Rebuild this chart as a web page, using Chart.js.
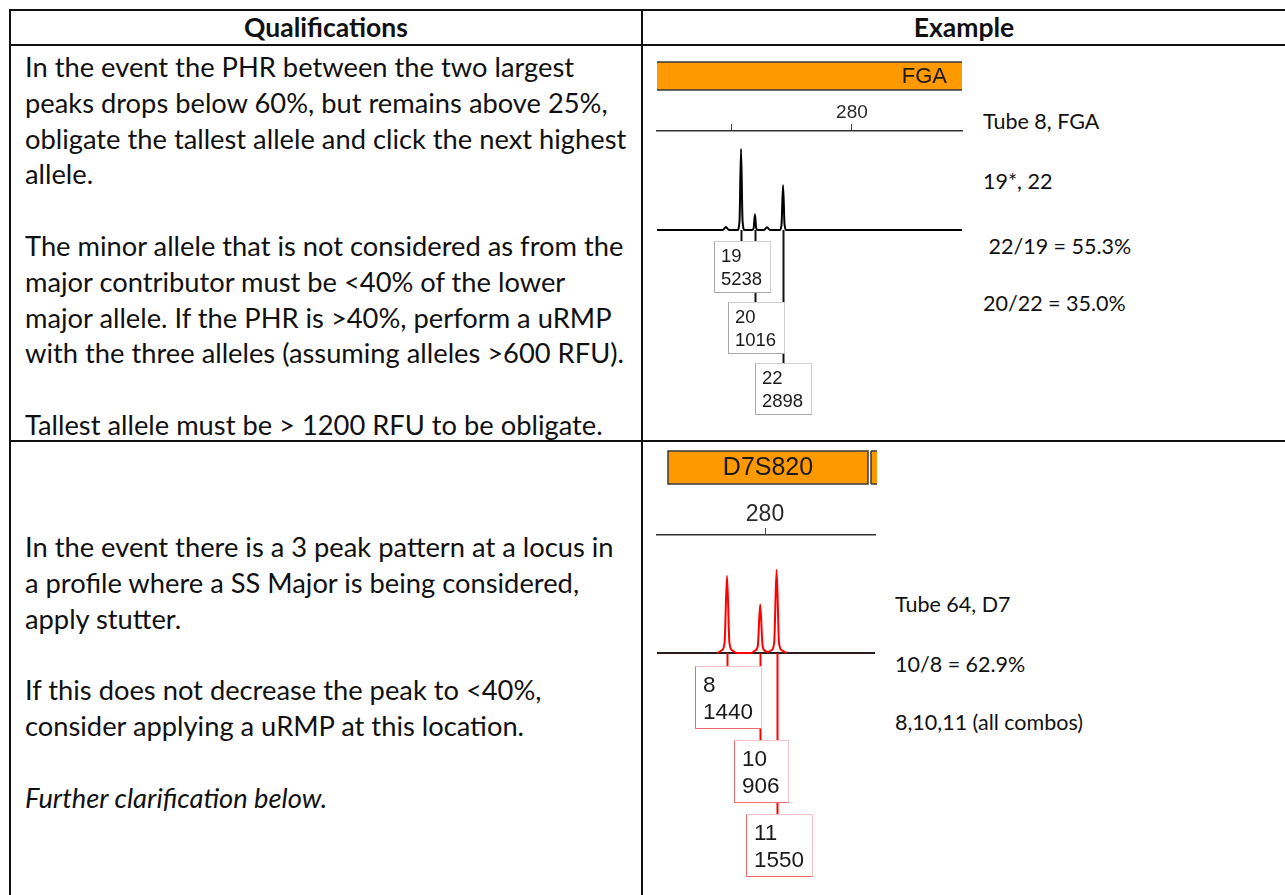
<!DOCTYPE html>
<html>
<head>
<meta charset="utf-8">
<script src="https://cdn.jsdelivr.net/npm/chart.js@4.4.1/dist/chart.umd.min.js"></script>
<style>
  body { margin: 0; background: #fff; }
  #page { position: relative; width: 1285px; height: 895px; overflow: hidden; font-family: Lato, sans-serif; color: #111; }
  .hl { position: absolute; background: #111; height: 2px; }
  .vl { position: absolute; background: #111; width: 2px; }
  .hdr { position: absolute; top: 11px; font-weight: bold; font-size: 26.5px; line-height: 33px; text-align: center; }
  .txt { position: absolute; left: 25px; font-size: 27.3px; line-height: 35.8px; white-space: pre; }
  .note { position: absolute; font-size: 21.5px; line-height: 24px; white-space: pre; }
  canvas { position: absolute; }
</style>
</head>
<body>
<div id="page">
  <div class="hl" style="left:9px;top:9px;width:1276px"></div>
  <div class="hl" style="left:9px;top:44px;width:1276px"></div>
  <div class="hl" style="left:9px;top:440px;width:1276px"></div>
  <div class="vl" style="left:9px;top:9px;height:886px"></div>
  <div class="vl" style="left:641px;top:9px;height:886px"></div>

  <div class="hdr" style="left:11px;width:630px">Qualifications</div>
  <div class="hdr" style="left:643px;width:642px">Example</div>

  <div class="txt" style="top:49px">In the event the PHR between the two largest
peaks drops below 60%, but remains above 25%,
obligate the tallest allele and click the next highest
allele.

The minor allele that is not considered as from the
major contributor must be &lt;40% of the lower
major allele. If the PHR is &gt;40%, perform a uRMP
with the three alleles (assuming alleles &gt;600 RFU).

Tallest allele must be &gt; 1200 RFU to be obligate.</div>

  <div class="txt" style="top:529px">In the event there is a 3 peak pattern at a locus in
a profile where a SS Major is being considered,
apply stutter.

If this does not decrease the peak to &lt;40%,
consider applying a uRMP at this location.

<i>Further clarification below.</i></div>

  <div class="note" style="left:983px;top:109px">Tube 8, FGA</div>
  <div class="note" style="left:983px;top:169px">19*, 22</div>
  <div class="note" style="left:983px;top:234px"> 22/19 = 55.3%</div>
  <div class="note" style="left:983px;top:291px">20/22 = 35.0%</div>

  <div class="note" style="left:895px;top:592px">Tube 64, D7</div>
  <div class="note" style="left:895px;top:652px">10/8 = 62.9%</div>
  <div class="note" style="left:895px;top:710px">8,10,11 (all combos)</div>

  <canvas id="fgaChart" width="330" height="392" style="left:645px;top:47px"></canvas>
  <canvas id="d7Chart" width="240" height="450" style="left:645px;top:443px"></canvas>
</div>

<script>
// FGA, tube 8
const fgaRange = [215.5, 316.4];
const fgaBin = [215.5, 316.4];
const fgaTicks = [240, 280];
const fgaTickText = ['', '280'];
const fgaAlleles = ['19', '20', '22'];
const fgaSizes = [243.3, 247.9, 257.2];
const fgaHeights = [5238, 1016, 2898];
const fgaTraceBp = [215.5, 237.3, 238.3, 239.3, 242.1, 242.8, 243.3, 243.8, 244.5, 247.0, 247.5, 247.9, 248.3, 248.8, 250.9, 251.9, 252.9, 256.1, 256.7, 257.2, 257.7, 258.3, 316.4];
const fgaTraceRfu = [0, 0, 190, 0, 0, 600, 5238, 600, 0, 0, 150, 1016, 150, 0, 0, 170, 0, 0, 350, 2898, 350, 0, 0];

// D7S820, tube 64
const d7Range = [253, 307.5];
const d7Bin = [255.75, 305.75];
const d7NextBin = [306.5, 308];
const d7Ticks = [280];
const d7TickText = ['280'];
const d7Alleles = ['8', '10', '11'];
const d7Sizes = [270.5, 278.8, 282.9];
const d7Heights = [1440, 906, 1550];
const d7TraceBp = [268.0, 269.2, 269.9, 270.5, 271.1, 271.8, 273.0, 276.4, 277.6, 278.2, 278.8, 279.4, 280.0, 280.8, 281.6, 282.3, 282.9, 283.5, 284.2, 285.4];
const d7TraceRfu = [0, 50, 200, 1440, 200, 50, 0, 0, 50, 130, 906, 130, 40, 20, 50, 200, 1550, 200, 50, 0];

function toPoints(xs, ys) {
    return xs.map((x, i) => ({x: x, y: ys[i]}));
}

const locusBar = {
    id: 'locusBar',
    beforeDraw(chart, args, o) {
        const ctx = chart.ctx;
        const x = chart.scales.x;
        const l = x.getPixelForValue(o.from);
        const r = x.getPixelForValue(o.to);
        ctx.save();
        ctx.fillStyle = '#ff9900';
        ctx.fillRect(l, o.top, r - l, o.height);
        ctx.strokeStyle = '#3a3a3a';
        ctx.lineWidth = 1.5;
        if (o.boxed) {
            ctx.strokeRect(l, o.top, r - l, o.height);
        } else {
            ctx.beginPath();
            ctx.moveTo(l, o.top); ctx.lineTo(r, o.top);
            ctx.moveTo(l, o.top + o.height); ctx.lineTo(r, o.top + o.height);
            ctx.stroke();
        }
        if (o.next) {
            const n0 = x.getPixelForValue(o.next[0]);
            const n1 = x.getPixelForValue(o.next[1]);
            ctx.fillRect(n0, o.top, n1 - n0, o.height);
            ctx.beginPath();
            ctx.moveTo(n0, o.top); ctx.lineTo(n0, o.top + o.height);
            ctx.moveTo(n0, o.top); ctx.lineTo(n1, o.top);
            ctx.moveTo(n0, o.top + o.height); ctx.lineTo(n1, o.top + o.height);
            ctx.stroke();
        }
        ctx.fillStyle = '#1a1a1a';
        ctx.font = o.font;
        ctx.textBaseline = 'middle';
        if (o.align === 'right') {
            ctx.textAlign = 'right';
            ctx.fillText(o.name, r - o.inset, o.top + o.height / 2 + 1);
        } else {
            ctx.textAlign = 'center';
            ctx.fillText(o.name, (l + r) / 2, o.top + o.height / 2 + 1);
        }
        ctx.restore();
    }
};

const peakLabels = {
    id: 'peakLabels',
    afterDatasetsDraw(chart, args, o) {
        const ctx = chart.ctx;
        const x = chart.scales.x;
        const base = chart.scales.y.getPixelForValue(0);
        ctx.save();
        ctx.font = o.font;
        const boxes = o.alleles.map((a, i) => {
            const px = Math.round(x.getPixelForValue(o.sizes[i])) + 0.5;
            const w = Math.round(ctx.measureText(String(o.heights[i])).width + o.padL + o.padR);
            return {a: a, h: o.heights[i], px: px, left: Math.round(px - o.offset[i]), top: Math.round(base + o.gap + i * o.step), w: w};
        });
        ctx.strokeStyle = o.lineColor;
        ctx.lineWidth = o.lineWidth;
        boxes.forEach(b => {
            ctx.beginPath();
            ctx.moveTo(b.px, base);
            ctx.lineTo(b.px, b.top);
            ctx.stroke();
        });
        boxes.forEach(b => {
            ctx.fillStyle = '#fff';
            ctx.fillRect(b.left, b.top, b.w, o.boxH);
            ctx.strokeStyle = o.boxColor;
            ctx.lineWidth = 1;
            ctx.strokeRect(b.left + 0.5, b.top + 0.5, b.w, o.boxH);
            ctx.strokeStyle = o.shadeColor;
            ctx.beginPath();
            ctx.moveTo(b.left + 0.5, b.top + 0.5);
            ctx.lineTo(b.left + 0.5, b.top + o.boxH + 0.5);
            ctx.lineTo(b.left + b.w + 0.5, b.top + o.boxH + 0.5);
            ctx.stroke();
            ctx.fillStyle = '#1a1a1a';
            ctx.textBaseline = 'middle';
            ctx.textAlign = 'left';
            ctx.fillText(b.a, b.left + o.padL, b.top + o.row1);
            ctx.fillText(String(b.h), b.left + o.padL, b.top + o.row2);
        });
        ctx.restore();
    }
};

function xAxis(range, ticks, tickText, fontSize, axisHeight) {
    return {
        type: 'linear',
        position: 'top',
        min: range[0],
        max: range[1],
        afterBuildTicks: s => { s.ticks = ticks.map(v => ({value: v})); },
        afterFit: s => { s.height = axisHeight; },
        ticks: {
            autoSkip: false,
            maxRotation: 0,
            padding: 0,
            color: '#2a2a2a',
            font: {family: 'Liberation Sans', size: fontSize},
            callback: v => tickText[ticks.indexOf(v)]
        },
        grid: { drawOnChartArea: false, tickLength: 7, tickColor: '#444', tickWidth: 1 },
        border: { color: '#333', width: 1.5 }
    };
}

var fgaChart = new Chart(document.getElementById('fgaChart'), {
    type: 'line',
    data: {
        datasets: [{
            data: toPoints(fgaTraceBp, fgaTraceRfu),
            borderColor: '#000',
            borderWidth: 2,
            pointRadius: 0,
            cubicInterpolationMode: 'monotone',
            clip: false
        }]
    },
    options: {
        responsive: false,
        animation: false,
        layout: { padding: {left: 12, right: 13, top: 44, bottom: 209} },
        scales: {
            x: xAxis(fgaRange, fgaTicks, fgaTickText, 19, 40),
            y: { display: false, min: 0, max: 6400 }
        },
        plugins: {
            legend: { display: false },
            tooltip: { enabled: false },
            locusBar: { from: fgaBin[0], to: fgaBin[1], name: 'FGA', top: 15, height: 28, align: 'right', inset: 15, boxed: false, font: '22px "Liberation Sans"' },
            peakLabels: {
                alleles: fgaAlleles, sizes: fgaSizes, heights: fgaHeights,
                font: '18.5px "Liberation Sans"', lineColor: '#111', lineWidth: 2,
                boxColor: '#d0d0d0', shadeColor: '#a8a8a8',
                offset: [28, 28, 29], gap: 11, step: 61, boxH: 51, padL: 7, padR: 8, row1: 16, row2: 39
            }
        }
    },
    plugins: [locusBar, peakLabels]
});

var d7Chart = new Chart(document.getElementById('d7Chart'), {
    type: 'line',
    data: {
        datasets: [{
            data: toPoints(d7TraceBp, d7TraceRfu),
            borderColor: '#ff0000',
            borderWidth: 2,
            pointRadius: 0,
            cubicInterpolationMode: 'monotone',
            clip: false
        }, {
            data: toPoints(d7Range, [0, 0]),
            borderColor: '#2b1d1d',
            borderWidth: 2,
            pointRadius: 0,
            clip: false
        }]
    },
    options: {
        responsive: false,
        animation: false,
        layout: { padding: {left: 12, right: 10, top: 47, bottom: 240} },
        scales: {
            x: xAxis(d7Range, d7Ticks, d7TickText, 23, 45),
            y: { display: false, min: 0, max: 2200 }
        },
        plugins: {
            legend: { display: false },
            tooltip: { enabled: false },
            locusBar: { from: d7Bin[0], to: d7Bin[1], next: d7NextBin, name: 'D7S820', top: 8, height: 33, align: 'center', boxed: true, font: '25px "Liberation Sans"' },
            peakLabels: {
                alleles: d7Alleles, sizes: d7Sizes, heights: d7Heights,
                font: '22.5px "Liberation Sans"', lineColor: '#ff0000', lineWidth: 2,
                boxColor: '#f6c4c4', shadeColor: '#ee6a6a',
                offset: [33, 27, 32], gap: 13, step: 74, boxH: 62, padL: 8, padR: 8, row1: 20, row2: 47
            }
        }
    },
    plugins: [locusBar, peakLabels]
});
</script>
</body>
</html>
